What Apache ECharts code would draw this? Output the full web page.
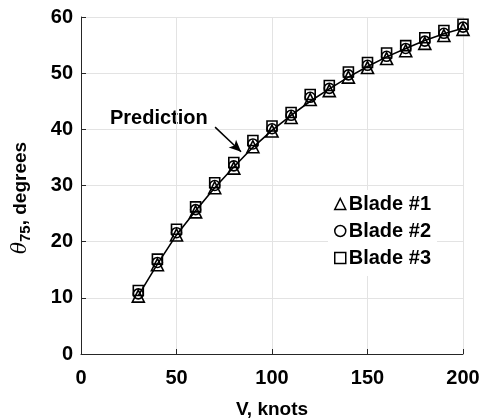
<!DOCTYPE html>
<html>
<head>
<meta charset="utf-8">
<script src="https://cdn.jsdelivr.net/npm/echarts@6/dist/echarts.min.js"></script>
<style>html,body{margin:0;padding:0;background:#fff}#c{width:482px;height:419px}</style>
</head>
<body>
<div id="c"></div>
<script>
var speeds = [30,40,50,60,70,80,90,100,110,120,130,140,150,160,170,180,190,200];
var blade1 = [10.3,15.9,21.2,25.3,29.6,33.1,36.9,39.7,42.1,45.3,46.9,49.3,51.0,52.6,54.0,55.3,56.7,57.8];
var blade2 = [10.7,16.3,21.6,25.7,30.0,33.5,37.4,40.1,42.5,45.7,47.3,49.7,51.4,53.0,54.4,55.7,57.1,58.2];
var blade3 = [11.3,16.9,22.2,26.2,30.5,34.1,38.0,40.6,43.0,46.2,47.8,50.2,51.9,53.6,54.9,56.3,57.6,58.7];
var prediction = [10.4,16.0,21.2,25.5,29.6,33.3,36.8,39.8,42.5,45.0,47.2,49.3,51.2,52.9,54.4,55.8,57.0,58.0];
var xTicks = [0,50,100,150,200];
var yTicks = [0,10,20,30,40,50,60];
var arrowFrom = [70.2, 40.4];
var arrowTo = [83.8, 36.0];

function pairs(ys){ return speeds.map(function(v,i){ return [v, ys[i]]; }); }

var chart = echarts.init(document.getElementById('c'), null, {renderer:'canvas'});
var font = '"Liberation Sans", Arial, sans-serif';
var hollow = function(){ return {color:'rgba(0,0,0,0)', borderColor:'#000', borderWidth:1.6}; };
chart.setOption({
  animation:false,
  backgroundColor:'#fff',
  grid:{left:81, right:19, top:17, bottom:65, containLabel:false, outerBoundsMode:'none'},
  xAxis:{
    type:'value', min:0, max:200, interval:50,
    axisLine:{show:true, lineStyle:{color:'#262626', width:1}},
    axisTick:{show:true, inside:true, length:5, lineStyle:{color:'#262626'}},
    axisLabel:{fontFamily:font, fontWeight:'bold', fontSize:20, color:'#000', margin:14,
      formatter:function(v){ return xTicks.indexOf(v)>=0 ? String(v) : ''; }},
    splitLine:{show:true, lineStyle:{color:'#e3e3e3', width:1}},
    name:'V, knots', nameLocation:'middle', nameGap:46,
    nameTextStyle:{fontFamily:font, fontWeight:'bold', fontSize:19, color:'#000'}
  },
  yAxis:{
    type:'value', min:0, max:60, interval:10,
    axisLine:{show:true, lineStyle:{color:'#262626', width:1}},
    axisTick:{show:true, inside:true, length:5, lineStyle:{color:'#262626'}},
    axisLabel:{fontFamily:font, fontWeight:'bold', fontSize:20, color:'#000', margin:8, padding:[6,0,0,0],
      formatter:function(v){ return yTicks.indexOf(v)>=0 ? String(v) : ''; }},
    splitLine:{show:true, lineStyle:{color:'#e3e3e3', width:1}}
  },
  legend:{
    orient:'vertical', left:328, top:190, itemGap:7,
    backgroundColor:'#fff', padding:[4,6,8,6],
    itemWidth:11, itemHeight:11,
    textStyle:{fontFamily:font, fontWeight:'bold', fontSize:20, color:'#000', padding:[0,0,0,-2]},
    data:[
      {name:'Blade #1', icon:'triangle', itemStyle:{color:'rgba(0,0,0,0)', borderColor:'#000', borderWidth:1.5}},
      {name:'Blade #2', icon:'circle', itemStyle:{color:'rgba(0,0,0,0)', borderColor:'#000', borderWidth:1.5}},
      {name:'Blade #3', icon:'rect', itemStyle:{color:'rgba(0,0,0,0)', borderColor:'#000', borderWidth:1.5}}
    ]
  },
  series:[
    {name:'Prediction', type:'line', data:pairs(prediction), showSymbol:false, symbol:'none',
      lineStyle:{color:'#000', width:1.6}, z:3,
      markLine:{silent:true, symbol:['none','arrow'], symbolSize:[8,12],
        lineStyle:{color:'#000', width:1.5, type:'solid'}, label:{show:false},
        data:[[{coord:arrowFrom},{coord:arrowTo}]]}},
    {name:'Blade #1', type:'line', data:pairs(blade1), lineStyle:{width:0}, symbol:'triangle', symbolSize:12, itemStyle:hollow(), z:4},
    {name:'Blade #2', type:'line', data:pairs(blade2), lineStyle:{width:0}, symbol:'circle', symbolSize:10, itemStyle:hollow(), z:4},
    {name:'Blade #3', type:'line', data:pairs(blade3), lineStyle:{width:0}, symbol:'rect', symbolSize:10, itemStyle:hollow(), z:4}
  ],
  graphic:[
    {type:'text', left:110, top:108, style:{text:'Prediction', fontFamily:font, fontWeight:'bold', fontSize:20, fill:'#000'}},
    {type:'text', x:21, y:198, rotation:Math.PI/2, style:{
      text:'{t|θ}{s|75}{n|, degrees}', align:'center', verticalAlign:'middle',
      rich:{
        t:{fontFamily:'"DejaVu Serif", "Liberation Serif", serif', fontStyle:'italic', fontSize:20, fill:'#000'},
        s:{fontFamily:font, fontWeight:'bold', fontSize:15, fill:'#000', verticalAlign:'bottom', padding:[10,0,0,0]},
        n:{fontFamily:font, fontWeight:'bold', fontSize:19, fill:'#000'}
      }}}
  ]
});
</script>
</body>
</html>
